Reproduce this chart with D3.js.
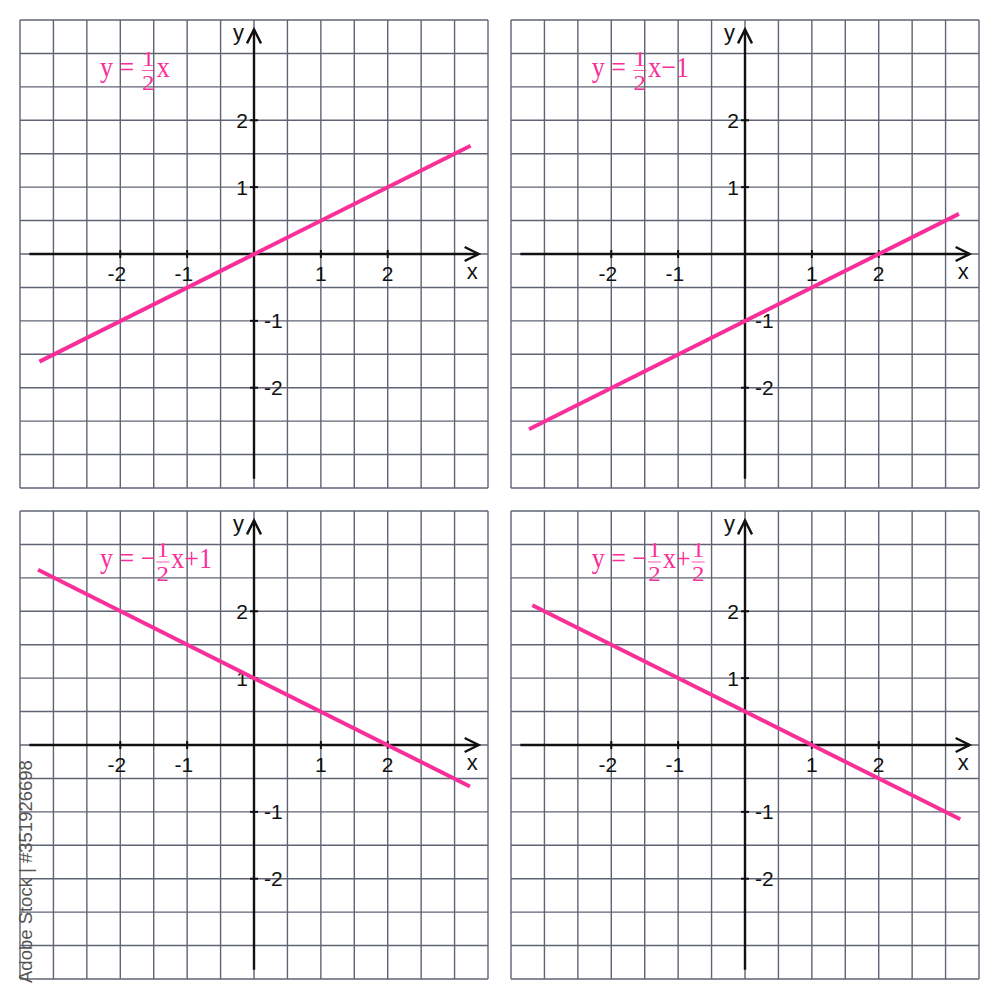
<!DOCTYPE html>
<html><head><meta charset="utf-8">
<script src="https://cdn.jsdelivr.net/npm/d3@7"></script>
<style>body{margin:0;background:#fff}</style>
</head><body>
<svg id="c" width="1000" height="1000"></svg>
<script>
// ---- data ----
const domainMin = -3.5, domainMax = 3.5;
const gridValues = [-3.5,-3,-2.5,-2,-1.5,-1,-0.5,0,0.5,1,1.5,2,2.5,3,3.5];
const axisExtent = [-3.36, 3.36];
const xTicks = [-2, -1, 1, 2];
const yTicks = [2, 1, -1, -2];
const line1 = [[-3.21, -1.61], [3.24, 1.62]];
const line2 = [[-3.23, -2.62], [3.20, 0.60]];
const line3 = [[-3.23, 2.62], [3.23, -0.62]];
const line4 = [[-3.18, 2.09], [3.22, -1.11]];
const label1 = ["y = ", {n: "1", d: "2"}, "x"];
const label2 = ["y = ", {n: "1", d: "2"}, "x\u22121"];
const label3 = ["y = \u2212", {n: "1", d: "2"}, "x+1"];
const label4 = ["y = \u2212", {n: "1", d: "2"}, "x+", {n: "1", d: "2"}];
const watermark = "Adobe Stock | #351926698";

// ---- layout ----
const size = 468;
const panels = [
  {ox: 20,  oy: 20,  line: line1, label: label1, lx: 80, ly: 56.5},
  {ox: 511, oy: 20,  line: line2, label: label2, lx: 80.7, ly: 56.5},
  {ox: 20,  oy: 511, line: line3, label: label3, lx: 80, ly: 57},
  {ox: 511, oy: 511, line: line4, label: label4, lx: 80.7, ly: 57}
];
const pink = "#f8309a";
const gridColor = "#5f6474";
const axisColor = "#111";

const svg = d3.select("#c");
svg.append("rect").attr("width",1000).attr("height",1000).attr("fill","#fff");

const x = d3.scaleLinear().domain([domainMin, domainMax]).range([0, size]);
const y = d3.scaleLinear().domain([domainMin, domainMax]).range([size, 0]);

panels.forEach(p => {
  const g = svg.append("g").attr("transform", `translate(${p.ox},${p.oy})`);
  // grid
  g.selectAll("line.v").data(gridValues).join("line").attr("class","v")
    .attr("x1", d => x(d)).attr("x2", d => x(d))
    .attr("y1", y(domainMin)).attr("y2", y(domainMax))
    .attr("stroke", gridColor).attr("stroke-width", 1.4);
  g.selectAll("line.h").data(gridValues).join("line").attr("class","h")
    .attr("y1", d => y(d)).attr("y2", d => y(d))
    .attr("x1", x(domainMin)).attr("x2", x(domainMax))
    .attr("stroke", gridColor).attr("stroke-width", 1.4);

  const x0 = x(0), y0 = y(0);
  // axes
  g.append("line").attr("x1", x(axisExtent[0])).attr("x2", x(axisExtent[1]))
    .attr("y1", y0).attr("y2", y0).attr("stroke", axisColor).attr("stroke-width", 2.4);
  g.append("line").attr("y1", y(axisExtent[0])).attr("y2", y(axisExtent[1]))
    .attr("x1", x0).attr("x2", x0).attr("stroke", axisColor).attr("stroke-width", 2.4);
  const xt = x(axisExtent[1]), yt = y(axisExtent[1]);
  g.append("path").attr("d", `M${xt-14},${y0-7}L${xt},${y0}L${xt-14},${y0+7}`)
    .attr("fill","none").attr("stroke", axisColor).attr("stroke-width", 2.4);
  g.append("path").attr("d", `M${x0-7},${yt+14}L${x0},${yt}L${x0+7},${yt+14}`)
    .attr("fill","none").attr("stroke", axisColor).attr("stroke-width", 2.4);

  // ticks
  g.selectAll("line.xt").data(xTicks).join("line").attr("class","xt")
    .attr("x1", d => x(d)).attr("x2", d => x(d)).attr("y1", y0-4).attr("y2", y0+4)
    .attr("stroke", axisColor).attr("stroke-width", 2);
  g.selectAll("line.yt").data(yTicks).join("line").attr("class","yt")
    .attr("y1", d => y(d)).attr("y2", d => y(d)).attr("x1", x0-4).attr("x2", x0+4)
    .attr("stroke", axisColor).attr("stroke-width", 2);

  const tf = "'Liberation Sans', Arial, sans-serif";
  g.selectAll("text.xl").data(xTicks).join("text").attr("class","xl")
    .attr("x", d => d < 0 ? x(d) + 6 : x(d))
    .attr("y", y0 + 27)
    .attr("text-anchor", d => d < 0 ? "end" : "middle")
    .attr("font-family", tf).attr("font-size", 21).attr("fill", axisColor)
    .text(d => String(d));
  g.selectAll("text.yl").data(yTicks).join("text").attr("class","yl")
    .attr("x", d => d < 0 ? x0 + 10 : x0 - 6)
    .attr("y", d => y(d) + 7.5)
    .attr("text-anchor", d => d < 0 ? "start" : "end")
    .attr("font-family", tf).attr("font-size", 21).attr("fill", axisColor)
    .text(d => String(d));
  g.append("text").attr("x", x0 - 10).attr("y", yt + 11).attr("text-anchor","end")
    .attr("font-family", tf).attr("font-size", 22).attr("fill", axisColor).text("y");
  g.append("text").attr("x", xt - 6.5).attr("y", y0 + 25).attr("text-anchor","middle")
    .attr("font-family", tf).attr("font-size", 22).attr("fill", axisColor).text("x");

  // function line
  g.append("path").datum(p.line)
    .attr("d", d3.line().x(d => x(d[0])).y(d => y(d[1])))
    .attr("fill","none").attr("stroke", pink).attr("stroke-width", 4).attr("stroke-linecap","butt");

  // formula label
  const lg = g.append("g").attr("transform", `translate(${p.lx},${p.ly})`);
  const sf = "'Liberation Serif', 'Times New Roman', serif";
  let cx = 0;
  p.label.forEach(tok => {
    if (typeof tok === "string") {
      const t = lg.append("text").attr("x", cx).attr("y", 0)
        .attr("xml:space","preserve").style("white-space","pre")
        .attr("font-family", sf).attr("font-size", 26).attr("fill", pink)
        .attr("transform", "scale(1,1.12)").text(tok);
      cx += t.node().getComputedTextLength();
    } else {
      const w = 13;
      const mid = cx + 1 + w/2;
      lg.append("text").attr("transform", `translate(${mid},-11) scale(1,0.86)`)
        .attr("text-anchor","middle").attr("font-family", sf).attr("font-size", 25)
        .attr("fill", pink).text(tok.n);
      lg.append("text").attr("transform", `translate(${mid},13) scale(1,0.86)`)
        .attr("text-anchor","middle").attr("font-family", sf).attr("font-size", 25)
        .attr("fill", pink).text(tok.d);
      lg.append("line").attr("x1", cx + 1).attr("x2", cx + 1 + w)
        .attr("y1", -6).attr("y2", -6).attr("stroke", pink).attr("stroke-width", 0.8);
      cx += w + 3;
    }
  });
});

// watermark
svg.append("text").attr("transform", "translate(32,983) rotate(-90)")
  .attr("font-family", "'Liberation Sans', Arial, sans-serif").attr("font-size", 18.5)
  .attr("fill", "#555").text(watermark);
</script></body></html>
